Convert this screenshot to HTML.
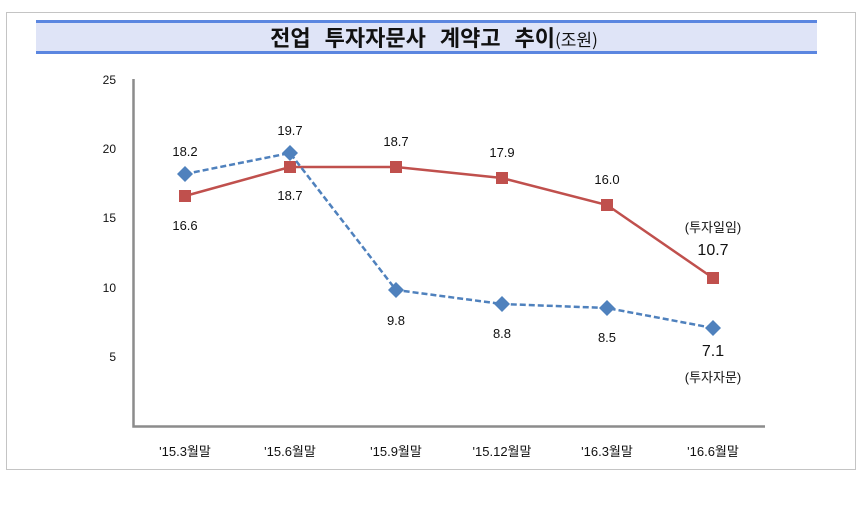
<!DOCTYPE html>
<html><head><meta charset="utf-8"><style>
body{margin:0;background:#fff;}
svg text{font-family:"Liberation Sans","Noto Sans CJK KR",sans-serif;fill:#111;}
</style></head><body>
<svg width="868" height="502" xmlns="http://www.w3.org/2000/svg">
<rect x="6.5" y="12.5" width="849" height="457" fill="none" stroke="#888" stroke-dasharray="1,1"/>
<rect x="36" y="21" width="781" height="32" fill="#dfe4f7"/>
<rect x="36" y="20" width="781" height="3" fill="#5b86e0"/>
<rect x="36" y="51" width="781" height="3" fill="#5b86e0"/>
<text x="434" y="46" text-anchor="middle" font-size="22" font-weight="bold" word-spacing="9" style="font-family:'Noto Sans CJK KR',sans-serif">전업 투자자문사 계약고 추이<tspan font-size="17" font-weight="normal" word-spacing="0">(조원)</tspan></text>
<path d="M133.5 79 V426.5 H765" fill="none" stroke="#8c8c8c" stroke-width="2.5"/>
<g font-size="12" text-anchor="end">
<text x="116" y="84">25</text><text x="116" y="153">20</text><text x="116" y="222">15</text><text x="116" y="292">10</text><text x="116" y="361">5</text>
</g>
<g font-size="13" text-anchor="middle">
<text x="185" y="456">'15.3월말</text><text x="290" y="456">'15.6월말</text><text x="396" y="456">'15.9월말</text><text x="502" y="456">'15.12월말</text><text x="607" y="456">'16.3월말</text><text x="713" y="456">'16.6월말</text>
</g>
<polyline points="185,196 290,167 396,167 502,178 607,205 713,278" fill="none" stroke="#c0504d" stroke-width="2.5"/>
<g fill="#c0504d">
<rect x="179" y="190" width="12" height="12"/><rect x="284" y="161" width="12" height="12"/><rect x="390" y="161" width="12" height="12"/><rect x="496" y="172" width="12" height="12"/><rect x="601" y="199" width="12" height="12"/><rect x="707" y="272" width="12" height="12"/>
</g>
<polyline points="185,174 290,153 396,290 502,304 607,308 713,328" fill="none" stroke="#4f81bd" stroke-width="2.5" stroke-dasharray="6,3"/>
<g fill="#4f81bd">
<path d="M185 166 L193 174 L185 182 L177 174Z"/><path d="M290 145 L298 153 L290 161 L282 153Z"/><path d="M396 282 L404 290 L396 298 L388 290Z"/><path d="M502 296 L510 304 L502 312 L494 304Z"/><path d="M607 300 L615 308 L607 316 L599 308Z"/><path d="M713 320 L721 328 L713 336 L705 328Z"/>
</g>
<g font-size="13" text-anchor="middle">
<text x="185" y="156">18.2</text><text x="185" y="230">16.6</text>
<text x="290" y="135">19.7</text><text x="290" y="200">18.7</text>
<text x="396" y="146">18.7</text><text x="396" y="325">9.8</text>
<text x="502" y="157">17.9</text><text x="502" y="338">8.8</text>
<text x="607" y="184">16.0</text><text x="607" y="342">8.5</text>
<text x="713" y="232">(투자일임)</text>
<text x="713" y="356" font-size="16">7.1</text>
<text x="713" y="382">(투자자문)</text>
<text x="713" y="255" font-size="16">10.7</text>
</g>
</svg>
</body></html>
